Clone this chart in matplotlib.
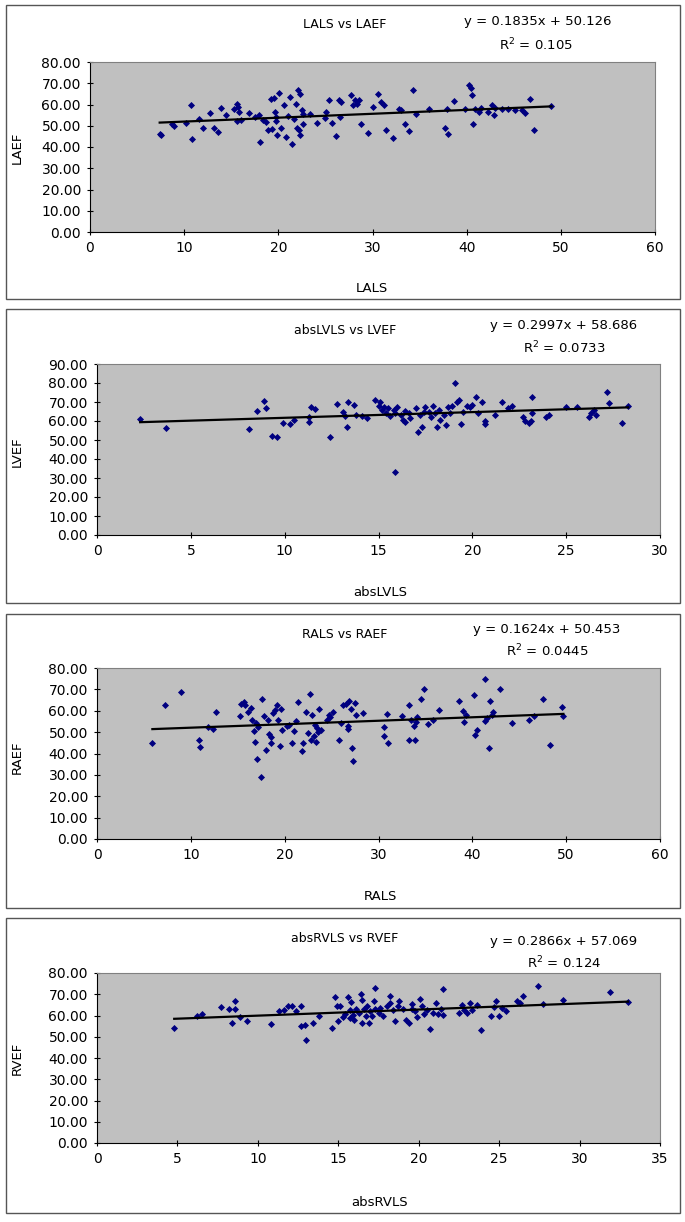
import numpy as np
import matplotlib
matplotlib.use("Agg")
import matplotlib.pyplot as plt
from matplotlib.patches import Rectangle

# ---- panel 1: LALS vs LAEF ----
lals = [7.4, 7.5, 8.7, 8.9, 10.2, 10.7, 10.8, 11.6, 12.0, 12.7, 13.2, 13.6, 13.9, 14.4,
        15.3, 15.6, 15.7, 15.6, 16.0, 15.8, 16.9, 17.5, 17.9, 18.1, 18.4, 18.7, 18.9, 19.2,
        19.3, 19.5, 19.6, 19.7, 19.8, 19.9, 20.1, 20.3, 20.6, 20.8, 21.0, 21.2, 21.4, 21.7,
        21.9, 22.0, 22.1, 22.2, 22.3, 22.3, 22.5, 22.6, 22.6, 23.4, 24.1, 25.0, 25.1, 25.4,
        25.7, 26.1, 26.4, 26.5, 26.7, 27.7, 27.9, 28.1, 28.4, 28.6, 28.8, 29.5, 30.0, 30.6,
        30.9, 31.2, 31.4, 32.2, 32.8, 33.0, 33.5, 33.9, 34.3, 34.6, 36.0, 37.7, 37.9, 38.0,
        38.7, 39.8, 40.2, 40.5, 40.6, 40.7, 40.9, 41.3, 41.5, 42.3, 42.7, 42.9, 43.0, 43.7,
        44.4, 45.1, 45.9, 46.2, 46.7, 47.1, 49.0]
laef = [46.0, 45.5, 50.7, 49.7, 51.3, 59.6, 43.9, 53.0, 49.1, 56.2, 48.9, 47.1, 58.4, 54.9,
        58.0, 60.1, 58.8, 52.1, 52.9, 56.5, 56.2, 54.3, 54.9, 42.4, 52.5, 51.8, 47.8, 62.4,
        48.6, 63.2, 56.5, 54.1, 52.2, 45.5, 65.6, 49.1, 59.6, 44.7, 54.4, 63.5, 41.3, 53.3,
        60.4, 49.1, 66.7, 47.8, 65.1, 45.8, 57.6, 51.0, 55.4, 55.4, 51.3, 53.8, 56.5, 62.3,
        51.3, 45.3, 62.3, 54.1, 61.2, 64.3, 59.6, 62.0, 60.4, 62.3, 51.0, 46.7, 58.8, 64.8,
        61.2, 59.6, 47.8, 44.4, 58.0, 57.3, 51.0, 47.5, 67.0, 55.7, 58.0, 48.9, 58.0, 46.0,
        61.6, 58.0, 69.0, 67.9, 64.3, 50.7, 58.0, 56.5, 58.5, 56.5, 59.6, 54.9, 58.5, 58.0,
        58.0, 57.3, 57.3, 56.0, 62.4, 47.8, 59.1]

# ---- panel 2: absLVLS vs LVEF ----
abslvls = [2.3, 3.7, 8.1, 8.5, 8.9, 9.0, 9.3, 9.6, 9.9, 10.3, 10.5, 11.3, 11.3, 11.4, 11.6,
           12.4, 12.8, 13.1, 13.2, 13.3, 13.4, 13.7, 13.8, 14.1, 14.4, 14.8, 15.0, 15.1, 15.2,
           15.3, 15.4, 15.5, 15.6, 15.8, 15.9, 15.9, 16.0, 16.2, 16.3, 16.4, 16.4, 16.6, 16.7,
           17.0, 17.1, 17.2, 17.3, 17.4, 17.5, 17.7, 17.8, 17.9, 18.0, 18.1, 18.2, 18.3, 18.5,
           18.6, 18.7, 18.8, 18.9, 19.1, 19.2, 19.3, 19.4, 19.5, 19.7, 19.9, 20.0, 20.2, 20.3,
           20.5, 20.7, 20.7, 21.2, 21.6, 21.9, 22.1, 22.7, 22.8, 23.0, 23.1, 23.2, 23.2, 23.9,
           24.1, 25.0, 25.6, 26.2, 26.3, 26.5, 26.6, 27.2, 27.3, 28.0, 28.3]
lvef = [60.9, 56.1, 55.6, 65.3, 70.7, 66.7, 52.1, 51.4, 59.1, 58.4, 60.5, 59.6, 62.3, 67.5,
        66.1, 51.4, 68.8, 64.9, 62.6, 57.0, 70.2, 68.4, 63.2, 62.6, 61.4, 71.1, 67.9, 70.2,
        65.8, 67.5, 64.4, 66.7, 62.6, 65.8, 33.3, 64.0, 67.2, 63.2, 60.5, 65.4, 59.6, 64.0,
        61.4, 66.7, 54.0, 63.2, 57.0, 64.9, 67.5, 64.9, 62.3, 67.9, 64.0, 57.0, 65.8, 60.5,
        63.2, 57.9, 67.2, 64.0, 67.9, 79.8, 70.2, 71.1, 58.2, 64.9, 67.9, 67.5, 68.4, 72.5,
        64.0, 70.2, 58.4, 60.2, 63.2, 70.2, 66.7, 67.9, 62.3, 60.2, 59.1, 60.2, 72.5, 64.0,
        62.3, 63.2, 67.2, 67.5, 62.3, 64.4, 65.8, 63.2, 75.4, 69.3, 59.1, 67.9]

# ---- panel 3: RALS vs RAEF ----
rals = [5.9, 7.3, 9.0, 10.9, 11.0, 11.8, 12.4, 12.7, 15.2, 15.3, 15.7, 15.8, 16.1, 16.4, 16.5,
        16.7, 16.8, 16.9, 17.0, 17.2, 17.5, 17.6, 17.8, 18.0, 18.2, 18.3, 18.5, 18.5, 18.8,
        19.0, 19.2, 19.3, 19.5, 19.6, 19.7, 20.2, 20.5, 20.8, 21.0, 21.2, 21.4, 21.8, 22.0,
        22.3, 22.5, 22.7, 22.8, 22.9, 23.1, 23.2, 23.3, 23.4, 23.6, 23.7, 23.9, 24.5, 24.7,
        24.8, 25.1, 25.8, 26.0, 26.2, 26.5, 26.7, 26.8, 26.9, 27.1, 27.2, 27.3, 27.5, 27.6,
        28.3, 30.6, 30.6, 30.9, 31.0, 32.5, 33.2, 33.3, 33.5, 33.8, 33.9, 34.0, 34.1, 34.5,
        34.8, 35.3, 35.8, 36.4, 38.6, 39.0, 39.1, 39.3, 40.2, 40.3, 40.5, 41.3, 41.4, 41.6,
        41.8, 41.9, 42.1, 42.2, 43.0, 44.2, 46.0, 46.6, 47.5, 48.3, 49.6, 49.7]
raef = [44.9, 62.5, 68.8, 46.5, 42.9, 52.2, 51.6, 59.4, 57.4, 63.2, 64.1, 62.8, 59.4, 61.3, 55.8,
        50.4, 45.2, 54.3, 37.6, 52.2, 29.0, 65.5, 57.4, 41.5, 55.8, 49.1, 44.9, 47.6, 58.9,
        60.5, 62.5, 55.8, 43.4, 60.8, 51.1, 52.7, 53.5, 44.9, 50.4, 55.1, 64.1, 41.0, 44.9,
        59.4, 49.6, 67.8, 46.5, 58.2, 48.0, 53.5, 45.4, 51.9, 50.1, 61.0, 51.1, 55.8, 58.2,
        56.9, 59.4, 46.5, 54.3, 62.5, 63.2, 52.7, 51.6, 64.4, 61.0, 42.6, 36.6, 63.6, 58.2,
        58.9, 52.2, 48.0, 58.5, 44.9, 57.4, 46.5, 62.5, 55.8, 52.7, 46.5, 54.7, 56.9, 65.7,
        70.3, 53.8, 55.8, 60.5, 64.7, 59.7, 54.7, 58.2, 67.2, 48.8, 51.1, 55.4, 75.0, 56.6,
        42.6, 64.7, 57.9, 59.4, 70.3, 54.3, 55.8, 57.4, 65.5, 44.1, 61.6, 57.4]

# ---- panel 4: absRVLS vs RVEF ----
absrvls = [4.8, 6.2, 6.5, 7.7, 8.2, 8.4, 8.6, 8.6, 8.9, 9.3, 10.8, 11.3, 11.6, 11.9, 12.1,
           12.4, 12.7, 12.7, 12.9, 13.0, 13.4, 13.8, 14.6, 14.8, 14.9, 15.0, 15.1, 15.3, 15.4,
           15.6, 15.7, 15.7, 15.8, 15.9, 16.0, 16.1, 16.3, 16.4, 16.5, 16.5, 16.6, 16.7, 16.8,
           16.9, 17.0, 17.1, 17.2, 17.3, 17.3, 17.5, 17.6, 17.8, 18.0, 18.2, 18.2, 18.4, 18.5,
           18.7, 18.8, 19.0, 19.2, 19.4, 19.6, 19.6, 19.8, 19.9, 20.1, 20.2, 20.3, 20.5, 20.7,
           20.9, 21.1, 21.2, 21.4, 21.5, 21.5, 22.5, 22.7, 22.8, 23.0, 23.2, 23.3, 23.6, 23.9,
           24.5, 24.7, 24.8, 25.0, 25.2, 25.4, 26.1, 26.3, 26.5, 27.4, 27.7, 29.0, 31.9, 33.0]
rvef = [54.1, 59.6, 60.9, 64.0, 63.1, 56.5, 66.7, 63.1, 59.3, 57.3, 56.2, 62.0, 62.7, 64.3, 64.3,
        62.0, 64.3, 55.2, 55.7, 48.6, 56.5, 59.9, 54.1, 68.7, 64.3, 57.3, 64.3, 59.3, 60.9,
        68.7, 62.7, 58.8, 66.2, 60.4, 58.0, 63.1, 61.2, 70.3, 67.5, 56.5, 63.1, 59.9, 64.6,
        56.5, 62.0, 59.6, 66.7, 72.9, 63.1, 61.2, 63.5, 59.6, 64.3, 65.9, 69.0, 62.7, 57.3,
        64.6, 66.7, 63.1, 58.0, 56.5, 63.1, 65.6, 62.0, 59.3, 67.8, 64.3, 60.9, 62.7, 53.6,
        61.2, 65.9, 60.9, 63.1, 72.5, 60.4, 61.2, 65.1, 62.7, 61.2, 65.9, 62.7, 65.1, 53.0,
        59.9, 64.0, 66.7, 59.6, 63.5, 62.0, 66.7, 65.9, 69.3, 74.0, 65.6, 67.1, 70.9, 66.2]

titles = ["LALS vs LAEF", "absLVLS vs LVEF", "RALS vs RAEF", "absRVLS vs RVEF"]
xlabels = ["LALS", "absLVLS", "RALS", "absRVLS"]
ylabels = ["LAEF", "LVEF", "RAEF", "RVEF"]
slopes = [0.1835, 0.2997, 0.1624, 0.2866]
intercepts = [50.126, 58.686, 50.453, 57.069]
eq_texts = ["y = 0.1835x + 50.126", "y = 0.2997x + 58.686",
            "y = 0.1624x + 50.453", "y = 0.2866x + 57.069"]
r2_texts = ["0.105", "0.0733", "0.0445", "0.124"]
xmaxes = [60, 30, 60, 35]
xsteps = [10, 5, 10, 5]
ymaxes = [80, 90, 80, 80]

xs = [lals, abslvls, rals, absrvls]
ys = [laef, lvef, raef, rvef]

W, H = 685, 1222
fig = plt.figure(figsize=(W / 100, H / 100), dpi=100)
fig.patch.set_facecolor("white")

# layout in pixels (left, top, right, bottom) of plot areas
areas = [(90, 62, 655, 232), (97, 364, 660, 535), (97, 668, 660, 839), (97, 973, 660, 1143)]
boxes = [(6, 5, 680, 299), (6, 309, 680, 603), (6, 614, 680, 908), (6, 918, 680, 1213)]
title_pos = [(345, 25), (345, 330), (345, 634), (345, 939)]
eq_pos = [(538, 21), (564, 325), (547, 629), (564, 941)]
r2_pos = [(536, 45), (564, 348), (547, 651), (564, 963)]
xlab_pos = [(372, 288), (380, 593), (380, 897), (380, 1202)]
ylab_pos = [(17, 148), (17, 452), (17, 757), (17, 1058)]

def fx(px):
    return px / W

def fy(py):
    return 1 - py / H

for i in range(4):
    l, t, r, b = areas[i]
    ax = fig.add_axes([fx(l), fy(b), (r - l) / W, (b - t) / H])
    ax.set_facecolor("#c0c0c0")
    ax.scatter(xs[i], ys[i], marker="D", s=13, color="#000080", zorder=3, linewidths=0)
    xl = np.array([min(xs[i]), max(xs[i])])
    ax.plot(xl, slopes[i] * xl + intercepts[i], color="black", lw=1.6, zorder=4)
    ax.set_xlim(0, xmaxes[i])
    ax.set_ylim(0, ymaxes[i])
    ax.set_xticks(np.arange(0, xmaxes[i] + 1, xsteps[i]))
    ax.set_yticks(np.arange(0, ymaxes[i] + 1, 10))
    ax.set_yticklabels(["%.2f" % v for v in np.arange(0, ymaxes[i] + 1, 10)])
    ax.tick_params(direction="inout", length=5, width=0.8, labelsize=10, pad=4)
    for s in ["top", "right"]:
        ax.spines[s].set_color("#808080")
        ax.spines[s].set_linewidth(0.8)
    for s in ["left", "bottom"]:
        ax.spines[s].set_color("black")
        ax.spines[s].set_linewidth(0.8)

    fig.text(fx(title_pos[i][0]), fy(title_pos[i][1]), titles[i], ha="center", va="center", fontsize=9)
    fig.text(fx(eq_pos[i][0]), fy(eq_pos[i][1]), eq_texts[i], ha="center", va="center", fontsize=9.5)
    fig.text(fx(r2_pos[i][0]), fy(r2_pos[i][1]), "R$^2$ = " + r2_texts[i], ha="center", va="center", fontsize=9.5)
    fig.text(fx(xlab_pos[i][0]), fy(xlab_pos[i][1]), xlabels[i], ha="center", va="center", fontsize=9.5)
    fig.text(fx(ylab_pos[i][0]), fy(ylab_pos[i][1]), ylabels[i], ha="center", va="center",
             fontsize=9.5, rotation=90)

    bl, bt, br, bb = boxes[i]
    fig.patches.append(Rectangle((fx(bl), fy(bb)), (br - bl) / W, (bb - bt) / H,
                                 transform=fig.transFigure, fill=False,
                                 edgecolor="#555555", lw=1.0))

fig.savefig("out.png", dpi=100)
